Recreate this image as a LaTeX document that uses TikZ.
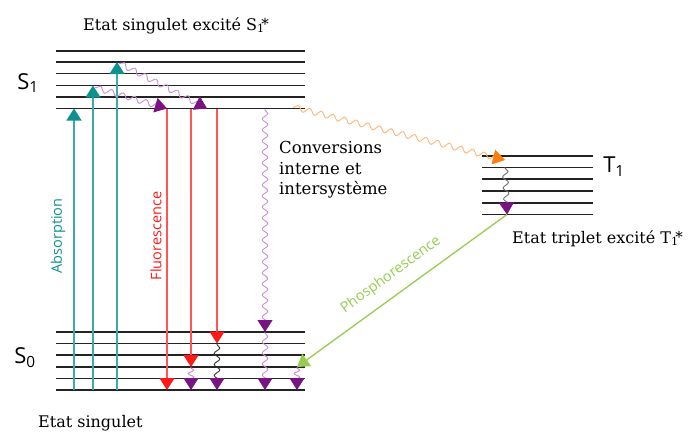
\documentclass[tikz,border=0pt]{standalone}
\usepackage{fontspec}
\setmainfont{DejaVu Serif}
\newfontfamily\labelsans{Open Sans}
\usetikzlibrary{arrows.meta,decorations.pathmorphing}
\definecolor{tealD}{RGB}{15,145,145}
\definecolor{tealL}{RGB}{60,170,170}
\definecolor{redD}{RGB}{255,25,25}
\definecolor{redL}{RGB}{255,85,85}
\definecolor{purpD}{RGB}{120,20,130}
\definecolor{purpL}{RGB}{200,140,215}
\definecolor{orngD}{RGB}{255,125,10}
\definecolor{orngL}{RGB}{255,180,120}
\definecolor{grnL}{RGB}{150,205,80}
\definecolor{lvl}{RGB}{35,35,35}
\newcommand{\excstar}[1]{#1\textsubscript{1}\kern-3.5pt\raisebox{1pt}{\fontsize{15}{15}\selectfont *}}
\begin{document}
\begin{tikzpicture}[x=1pt,y=-1pt,
  level/.style={draw=lvl, line width=1.5pt},
  tip/.style={-{Triangle[length=12pt,width=15pt,color=#1]}},
  absarrow/.style={tealL, line width=1.3pt, tip=tealD},
  fluoarrow/.style={redL, line width=1.3pt, tip=redD},
  wavy/.style={line width=0.9pt, decorate,
    decoration={snake, amplitude=2.8pt, segment length=11pt, pre length=1pt, post length=3pt}},
  purpwave/.style={wavy, purpL, tip=purpD},
  titletext/.style={font=\fontsize{16}{19}\selectfont, inner sep=0pt},
  statelbl/.style={font=\labelsans\fontsize{22}{24}\selectfont, inner sep=0pt},
  proclbl/.style={font=\labelsans\fontsize{14.5}{16}\selectfont, inner sep=0pt}
]
\useasboundingbox (0,0) rectangle (693,431);

% ---------- energy levels ----------
\foreach \y in {51,62,73.5,85.5,97,108.5} \draw[level] (56,\y) -- (305,\y);
\foreach \y in {332,343.5,355,367,378.5} \draw[level] (56,\y) -- (305,\y);
\draw[level, line width=2.4pt] (56,390) -- (305,390);
\foreach \y in {156,167.5,179,191,203,214.5} \draw[level] (482,\y) -- (593,\y);

% ---------- labels ----------
\node[titletext, anchor=base west] (title) at (83,30) {Etat singulet excité \excstar{S}};
\node[titletext, anchor=base west] (bottom) at (38,427) {Etat singulet};
\node[titletext, anchor=base west] (trip) at (512,243) {Etat triplet excité \excstar{T}};
\node[titletext, anchor=west, align=left, font=\fontsize{16.5}{20.5}\selectfont] (conv) at (279,170)
  {Conversions\\interne et\\intersystème};
\node[statelbl] (S1) at (28,83) {S\textsubscript{1}};
\node[statelbl] (S0) at (25,358) {S\textsubscript{0}};
\node[statelbl] (T1) at (614,167) {T\textsubscript{1}};
\node[proclbl, tealD, rotate=90] (abs) at (58,236) {Absorption};
\node[proclbl, redD, rotate=90] (fluo) at (156,236) {Fluorescence};
\node[proclbl, grnL, rotate=36] (phos) at (391,275) {Phosphorescence};

% ---------- key points ----------
\coordinate (a1b) at (74,390);  \coordinate (a1t) at (74,108.5);
\coordinate (a2b) at (93,390);  \coordinate (a2t) at (93,85.5);
\coordinate (a3b) at (117,390); \coordinate (a3t) at (117,62);
\coordinate (f1t) at (167,108.5); \coordinate (f1b) at (167,390);
\coordinate (f2t) at (191,108.5); \coordinate (f2b) at (191,367);
\coordinate (f3t) at (217,108.5); \coordinate (f3b) at (217,343.5);
\coordinate (f2e) at (191,390); \coordinate (f3e) at (217,390);
\coordinate (h2) at (207,108.5);
\coordinate (ic1) at (265,109); \coordinate (ic2) at (265,332); \coordinate (ic3) at (265,390);
\coordinate (ph1) at (297,367); \coordinate (ph2) at (297,390);
\coordinate (isc0) at (293,107); \coordinate (isc1) at (505,160);
\coordinate (t1a) at (505,167); \coordinate (t1b) at (507,214.5);

% ---------- absorption ----------
\draw[absarrow] (a1b) -- (a1t);
\draw[absarrow] (a2b) -- (a2t);
\draw[absarrow] (a3b) -- (a3t);

% ---------- vibrational relaxation in S1 ----------
\draw[purpwave, decoration={segment length=12pt}] ([xshift=2pt,yshift=-2pt]a2t) -- (f1t);
\draw[purpwave, decoration={segment length=12pt}] ([xshift=2pt,yshift=-1pt]a3t) -- (h2);

% ---------- fluorescence ----------
\draw[fluoarrow] (f1t) -- (f1b);
\draw[fluoarrow] (f2t) -- (f2b);
\draw[fluoarrow] (f3t) -- (f3b);
\draw[purpwave, decoration={segment length=7pt, post length=2pt}] (f2b) -- (f2e);
\draw[wavy, black!80, tip=purpD, decoration={segment length=11pt}] (f3b) -- (f3e);

% ---------- internal conversion ----------
\draw[purpwave] (ic1) -- (ic2);
\draw[purpwave] (ic2) -- (ic3);
\draw[purpwave, decoration={segment length=7pt, post length=2pt}] (ph1) -- (ph2);

% ---------- intersystem crossing ----------
\draw[wavy, orngL, tip=orngD, decoration={segment length=12pt}] (isc0) -- (isc1);
\draw[wavy, black!55, tip=purpD, decoration={segment length=11pt}] (t1a) -- (t1b);

% ---------- phosphorescence ----------
\draw[grnL, line width=1.3pt, tip=grnL] (t1b) -- (ph1);
\end{tikzpicture}
\end{document}
